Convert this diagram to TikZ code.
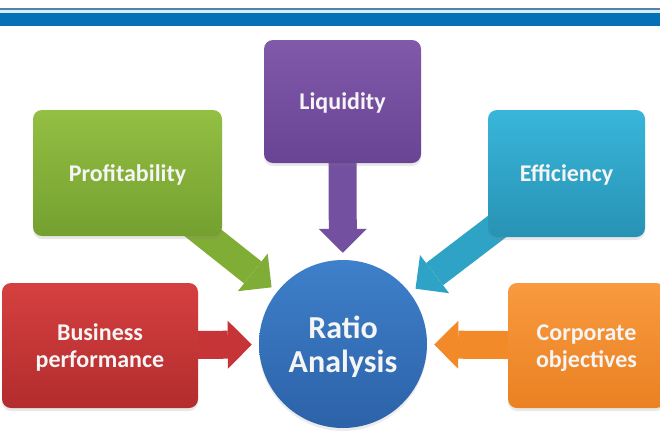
\documentclass[tikz,border=0pt]{standalone}
\usepackage{fontspec}
\setmainfont{Carlito}
\usetikzlibrary{arrows.meta,shadows}
\pgfdeclarelayer{bg}
\pgfsetlayers{bg,main}
\definecolor{barblue}{HTML}{0670B7}
\definecolor{barline}{HTML}{5A7FA8}
\definecolor{barlight}{HTML}{D3ECF6}
\definecolor{purT}{HTML}{8059AA}\definecolor{purB}{HTML}{6A4494}\definecolor{purA}{HTML}{7350A0}
\definecolor{grnT}{HTML}{93BF43}\definecolor{grnB}{HTML}{74A030}\definecolor{grnA}{HTML}{80AD35}
\definecolor{tealT}{HTML}{38B6DA}\definecolor{tealB}{HTML}{2892B4}\definecolor{tealA}{HTML}{2FA3C6}
\definecolor{redT}{HTML}{D5403F}\definecolor{redB}{HTML}{B32C2E}\definecolor{redA}{HTML}{C73437}
\definecolor{orgT}{HTML}{F89A3E}\definecolor{orgB}{HTML}{EA8123}\definecolor{orgA}{HTML}{F28A2A}
\definecolor{cirT}{HTML}{3E80CA}\definecolor{cirB}{HTML}{2C62A8}
\definecolor{txt}{HTML}{F5F5F5}
\newcommand\myboxstrut{\rule[-5.5pt]{0pt}{27pt}}
\newcommand\mycircstrut{\rule[-6pt]{0pt}{34pt}}
\tikzset{
  box/.style={rounded corners=9pt, inner sep=0pt, align=center, text=txt,
    font=\fontsize{24}{27}\selectfont\bfseries,
    drop shadow={shadow xshift=0pt, shadow yshift=-3pt, opacity=0.18}},
  blockarrow/.style={line width=28pt, shorten >=7pt,
    -{Triangle[width=48pt,length=24pt,line width=0pt]}},
}
\begin{document}
\begin{tikzpicture}[x=1pt,y=-1pt]
\useasboundingbox (0,0) rectangle (660,440);
\clip (0,0) rectangle (660,440);
% top bar
\fill[barline] (0,7.5) rectangle (660,9.5);
\fill[barlight] (0,9.5) rectangle (660,13.2);
\fill[barblue] (0,13.2) rectangle (660,26);
% boxes
\node[box, minimum width=157pt, minimum height=123pt, top color=purT, bottom color=purB] (liq) at (342.5,101.5) {\myboxstrut Liquidity};
\node[box, minimum width=189pt, minimum height=126pt, top color=grnT, bottom color=grnB] (prof) at (127.5,173) {\myboxstrut Profitability};
\node[box, minimum width=157pt, minimum height=127pt, top color=tealT, bottom color=tealB] (eff) at (566.5,173.5) {\myboxstrut Efficiency};
\node[box, minimum width=196pt, minimum height=125pt, top color=redT, bottom color=redB] (bus) at (100,345.5) {\myboxstrut Business\\\myboxstrut performance};
\node[box, minimum width=157pt, minimum height=125pt, top color=orgT, bottom color=orgB] (corp) at (586.5,345.5) {\myboxstrut Corporate\\\myboxstrut objectives};
\node[circle, minimum size=168pt, inner sep=0pt, top color=cirT, bottom color=cirB, align=center, text=txt,
  font=\fontsize{32}{34}\selectfont\bfseries,
  drop shadow={shadow xshift=0pt, shadow yshift=-3pt, opacity=0.15}] (ratio) at (343,344) {\mycircstrut Ratio\\\mycircstrut Analysis};
% arrows
\begin{pgfonlayer}{bg}
\draw[blockarrow, purA] (liq.center) -- (ratio);
\draw[blockarrow, grnA] (prof.center) -- (ratio);
\draw[blockarrow, tealA] (eff.center) -- (ratio);
\draw[blockarrow, redA] (bus.center) -- (ratio);
\draw[blockarrow, orgA] (corp.center) -- (ratio);
\end{pgfonlayer}
\end{tikzpicture}
\end{document}
